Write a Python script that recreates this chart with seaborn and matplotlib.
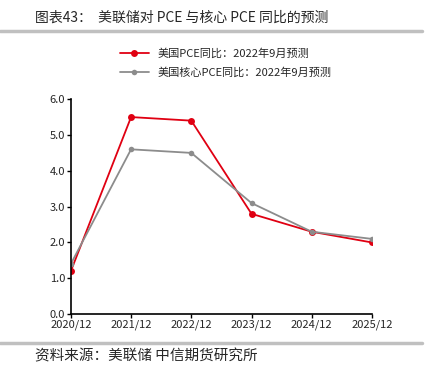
import pandas as pd
import numpy as np
import matplotlib.pyplot as plt
import seaborn as sns
from matplotlib.lines import Line2D

years = ["2020/12", "2021/12", "2022/12", "2023/12", "2024/12", "2025/12"]
pce = [1.2, 5.5, 5.4, 2.8, 2.3, 2.0]
core_pce = [1.4, 4.6, 4.5, 3.1, 2.3, 2.1]
label_pce = "美国PCE同比：2022年9月预测"
label_core = "美国核心PCE同比：2022年9月预测"

sns.set_style("ticks")
plt.rcParams['font.family'] = ['Noto Sans CJK SC', 'DejaVu Sans']

df = pd.DataFrame({"x": np.arange(len(years)), "pce": pce, "core": core_pce})

fig = plt.figure(figsize=(4.32, 3.70), dpi=100)
ax = fig.add_axes([0.164, 0.151, 0.697, 0.581])

sns.lineplot(data=df, x="x", y="pce", ax=ax, color="#e00012", marker="o",
             markersize=5, markeredgewidth=0, linewidth=1.3, label=label_pce)
sns.lineplot(data=df, x="x", y="core", ax=ax, color="#8c8c8c", marker="o",
             markersize=4, markeredgewidth=0, linewidth=1.3, label=label_core)

ax.set_xlim(0, len(years) - 1)
ax.set_ylim(0, 6)
ax.set_xticks(range(len(years)))
ax.set_xticklabels(years, fontsize=8)
ax.set_yticks(np.arange(0, 6.1, 1.0))
ax.set_yticklabels([f"{v:.1f}" for v in np.arange(0, 6.1, 1.0)], fontsize=8)
ax.set_xlabel("")
ax.set_ylabel("")
ax.tick_params(length=3, width=1, color="black", pad=1)
for s in ["left", "bottom"]:
    ax.spines[s].set_color("black")
    ax.spines[s].set_linewidth(1.2)
ax.spines["top"].set_visible(False)
ax.spines["right"].set_visible(False)
ax.get_legend().remove()

handles, labels = ax.get_legend_handles_labels()
fig.legend(handles, labels, loc="center", bbox_to_anchor=(0.522, 0.83),
           frameon=False, fontsize=8, handlelength=2.6, labelspacing=0.75)

fig.text(0.081, 0.953, "图表43：  美联储对 PCE 与核心 PCE 同比的预测", fontsize=10,
         va="center", ha="left")
fig.add_artist(Line2D([0, 0.977], [0.916, 0.916], color="#c0c0c0", linewidth=2.5))
fig.add_artist(Line2D([0, 0.977], [0.073, 0.073], color="#c0c0c0", linewidth=2.5))
fig.text(0.081, 0.038, "资料来源：美联储 中信期货研究所", fontsize=10.5, va="center", ha="left")

fig.savefig("out.png", dpi=100)
